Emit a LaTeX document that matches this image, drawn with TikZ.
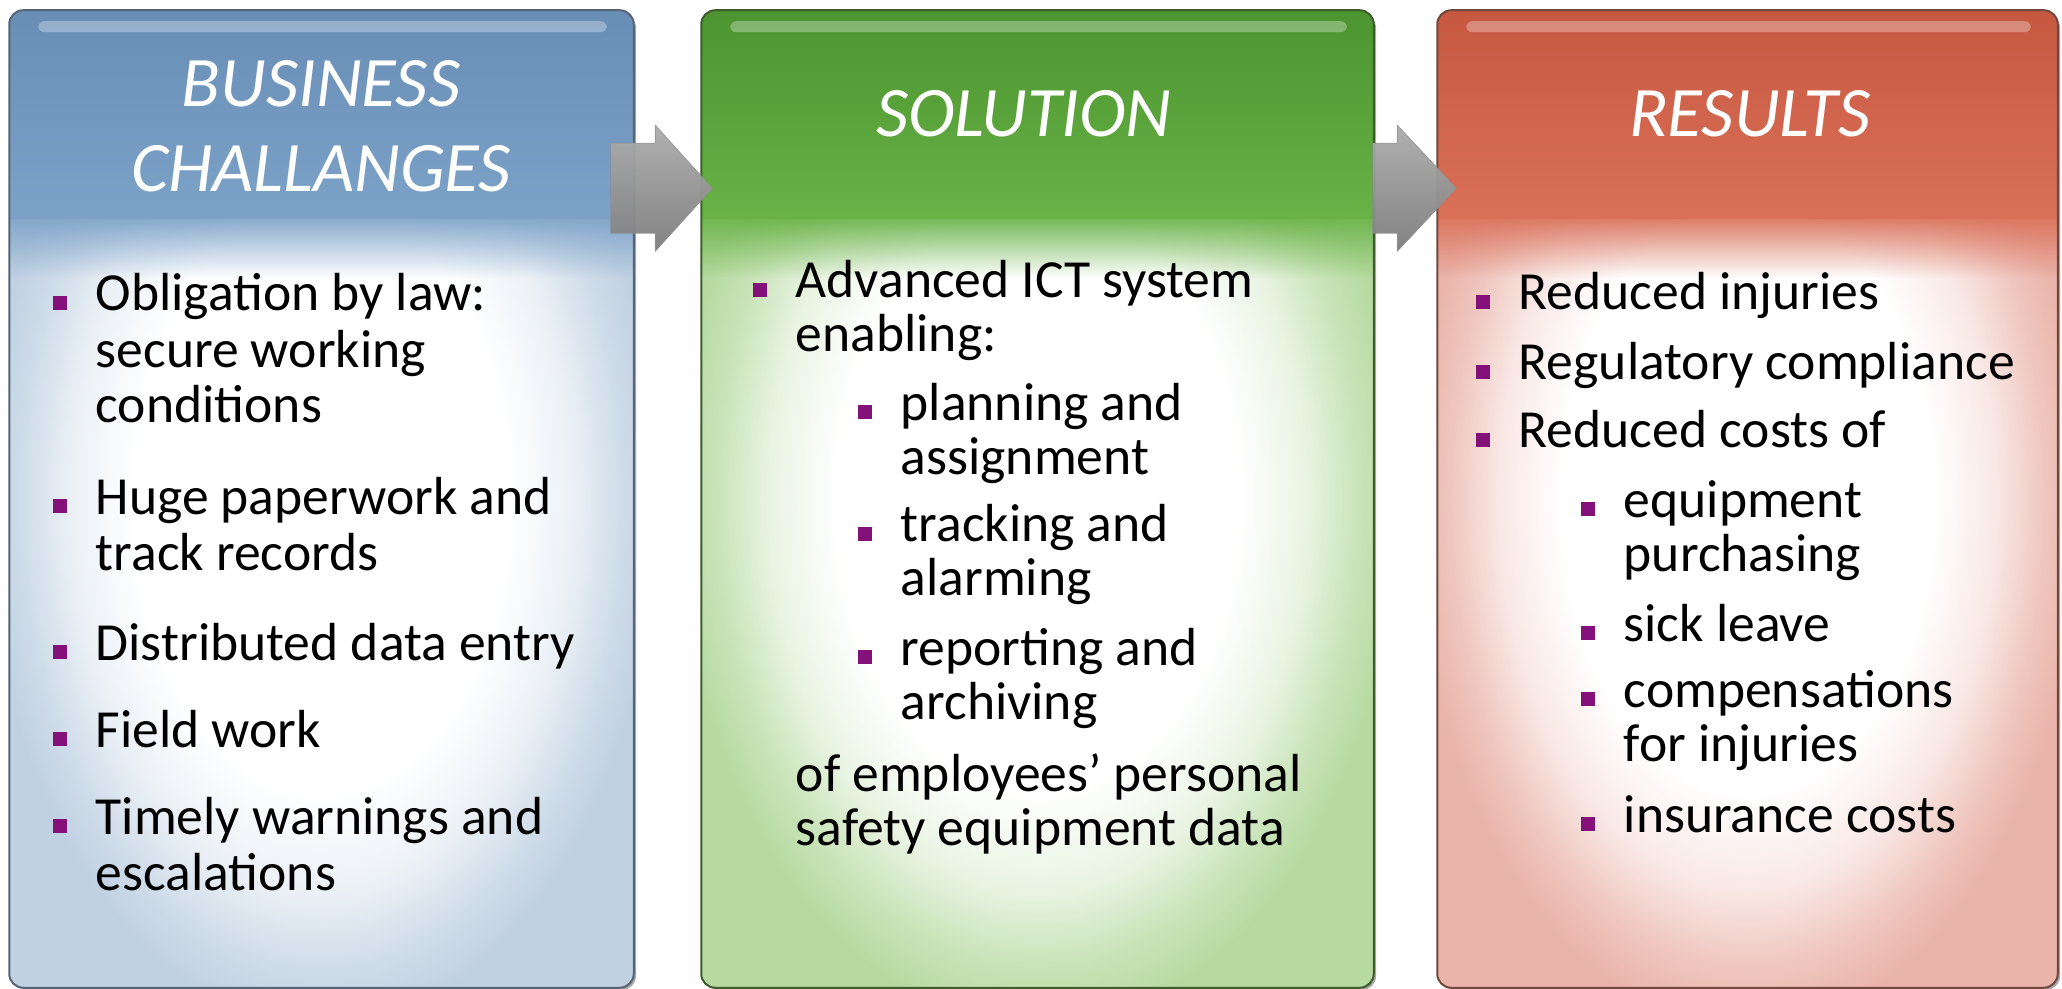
\documentclass[tikz,border=0pt]{standalone}
\usepackage{fontspec}
\setmainfont{Carlito}
\usetikzlibrary{calc,fadings,shadows}

\definecolor{bluetop}{RGB}{104,142,182}
\definecolor{bluemid}{RGB}{124,162,200}
\definecolor{blueedge}{RGB}{192,209,226}
\definecolor{blueline}{RGB}{85,100,118}
\definecolor{greentop}{RGB}{76,148,48}
\definecolor{greenmid}{RGB}{104,178,70}
\definecolor{greenedge}{RGB}{182,218,160}
\definecolor{greenline}{RGB}{62,92,44}
\definecolor{redtop}{RGB}{198,88,64}
\definecolor{redmid}{RGB}{218,112,88}
\definecolor{rededge}{RGB}{234,180,170}
\definecolor{redline}{RGB}{112,72,62}
\definecolor{bulletpurple}{RGB}{132,16,122}
\definecolor{arrowlight}{RGB}{205,205,205}
\definecolor{arrowdark}{RGB}{150,150,150}

\pgfdeclareradialshading{bodyblue}{\pgfpoint{0bp}{0bp}}{color(0bp)=(white); color(15bp)=(white); color(20bp)=(blueedge!30!white); color(24bp)=(blueedge!75!white); color(27bp)=(blueedge); color(50bp)=(blueedge)}
\pgfdeclareradialshading{bodygreen}{\pgfpoint{0bp}{0bp}}{color(0bp)=(white); color(15bp)=(white); color(20bp)=(greenedge!30!white); color(24bp)=(greenedge!75!white); color(27bp)=(greenedge); color(50bp)=(greenedge)}
\pgfdeclareradialshading{bodyred}{\pgfpoint{0bp}{0bp}}{color(0bp)=(white); color(15bp)=(white); color(20bp)=(rededge!30!white); color(24bp)=(rededge!75!white); color(27bp)=(rededge); color(50bp)=(rededge)}

\newcommand{\sq}{\llap{\textcolor{bulletpurple}{\rule[0.5pt]{7pt}{7pt}}\hspace{14.5pt}}}

\tikzset{every picture/.style={line width=0.75pt}}
\tikzset{
  panel/.style={draw=none, rounded corners=7pt, inner sep=0pt, minimum height=488pt, shading=body#1,
    drop shadow={shadow xshift=1.5pt, shadow yshift=-1.5pt, opacity=0.35, fill=black}},
  edge/.style={draw=#1, line width=1pt, rounded corners=7pt},
  gloss/.style={white, opacity=0.3, rounded corners=3pt},
  blockarrow/.style={top color=arrowlight, bottom color=arrowdark, draw=arrowdark, line width=0.4pt, opacity=0.82},
  title/.style={anchor=base, align=center, inner sep=0pt, text=white, font=\fontsize{35.5}{42.5}\selectfont\itshape},
  itemtext/.style={anchor=base west, align=left, inner sep=0pt, text=black, font=\fontsize{26.8}{#1}\selectfont},
  itemtext/.default=28
}

\begin{document}
\begin{tikzpicture}[x=0.5pt,y=0.5pt,yscale=-1,xscale=1]
\useasboundingbox (0,0) rectangle (2062,989);
\fill[white] (0,0) rectangle (2062,989);

%Shape: Rounded Rect
\node[panel=blue, minimum width=311.5pt] (chal) at (321.5,499) {};
\begin{scope}
\clip[rounded corners=7pt] (chal.north west) rectangle (chal.south east);
\fill[top color=bluetop, bottom color=bluemid] (chal.north west) rectangle ($(chal.north east)+(0,208)$);
\fill[bluemid, path fading=south] ($(chal.north west)+(0,202)$) rectangle ($(chal.north east)+(0,268)$);
\fill[gloss] ($(chal.north west)+(29,11)$) rectangle ($(chal.north east)+(-27,22)$);
\end{scope}
\draw[edge=blueline] (chal.north west) rectangle (chal.south east);

%Shape: Rounded Rect
\node[panel=green, minimum width=335.5pt] (sol) at (1037.5,499) {};
\begin{scope}
\clip[rounded corners=7pt] (sol.north west) rectangle (sol.south east);
\fill[top color=greentop, bottom color=greenmid] (sol.north west) rectangle ($(sol.north east)+(0,208)$);
\fill[greenmid, path fading=south] ($(sol.north west)+(0,202)$) rectangle ($(sol.north east)+(0,268)$);
\fill[gloss] ($(sol.north west)+(29,11)$) rectangle ($(sol.north east)+(-27,22)$);
\end{scope}
\draw[edge=greenline] (sol.north west) rectangle (sol.south east);

%Shape: Rounded Rect
\node[panel=red, minimum width=309.5pt] (res) at (1747.5,499) {};
\begin{scope}
\clip[rounded corners=7pt] (res.north west) rectangle (res.south east);
\fill[top color=redtop, bottom color=redmid] (res.north west) rectangle ($(res.north east)+(0,208)$);
\fill[redmid, path fading=south] ($(res.north west)+(0,202)$) rectangle ($(res.north east)+(0,268)$);
\fill[gloss] ($(res.north west)+(29,11)$) rectangle ($(res.north east)+(-27,22)$);
\end{scope}
\draw[edge=redline] (res.north west) rectangle (res.south east);

%Right Arrow
\coordinate (a1s) at ($(chal.north east)+(-23,178)$);
\coordinate (a1t) at ($(sol.north west)+(11,178)$);
\filldraw[blockarrow] ($(a1s)+(0,-45)$) -- ($(a1t)+(-57,-45)$) -- ($(a1t)+(-57,-63)$) -- (a1t) -- ($(a1t)+(-57,63)$) -- ($(a1t)+(-57,45)$) -- ($(a1s)+(0,45)$) -- cycle ;
%Right Arrow
\coordinate (a2s) at ($(sol.north east)+(-1,178)$);
\coordinate (a2t) at ($(res.north west)+(19,178)$);
\filldraw[blockarrow] ($(a2s)+(0,-45)$) -- ($(a2t)+(-59,-45)$) -- ($(a2t)+(-59,-63)$) -- (a2t) -- ($(a2t)+(-59,63)$) -- ($(a2t)+(-59,45)$) -- ($(a2s)+(0,45)$) -- cycle ;

% Text Node
\draw (321,192) node [title] (chalttl) {BUSINESS\\CHALLANGES};
% Text Node
\draw (1024,137) node [title] (solttl) {SOLUTION};
% Text Node
\draw (1750,137) node [title] (resttl) {RESULTS};

% Text Node
\draw (95,423) node [itemtext] (law) {\sq Obligation by law:\\secure working\\conditions};
% Text Node
\draw (95,570) node [itemtext] (paper) {\sq Huge paperwork and\\track records};
% Text Node
\draw (95,660) node [itemtext] (entry) {\sq Distributed data entry};
% Text Node
\draw (95,747) node [itemtext] (field) {\sq Field work};
% Text Node
\draw (95,890) node [itemtext] (warn) {\sq Timely warnings and\\escalations};

% Text Node
\draw (795,352) node [itemtext=27] (ict) {\sq Advanced ICT system\\enabling:};
% Text Node
\draw (900,474) node [itemtext=27] (plan) {\sq planning and\\assignment};
% Text Node
\draw (900,596) node [itemtext=27] (track) {\sq tracking and\\alarming};
% Text Node
\draw (900,719) node [itemtext=27] (report) {\sq reporting and\\archiving};
% Text Node
\draw (795,845) node [itemtext=27] (data) {of employees’ personal\\safety equipment data};

% Text Node
\draw (1518,310) node [itemtext=27] (injury) {\sq Reduced injuries};
% Text Node
\draw (1518,380) node [itemtext=27] (comply) {\sq Regulatory compliance};
% Text Node
\draw (1518,448) node [itemtext=27] (costs) {\sq Reduced costs of};
% Text Node
\draw (1623,571) node [itemtext=27] (equip) {\sq equipment\\purchasing};
% Text Node
\draw (1623,641) node [itemtext=27] (sick) {\sq sick leave};
% Text Node
\draw (1623,761) node [itemtext=27] (comp) {\sq compensations\\for injuries};
% Text Node
\draw (1623,832) node [itemtext=27] (insure) {\sq insurance costs};

\end{tikzpicture}
\end{document}
